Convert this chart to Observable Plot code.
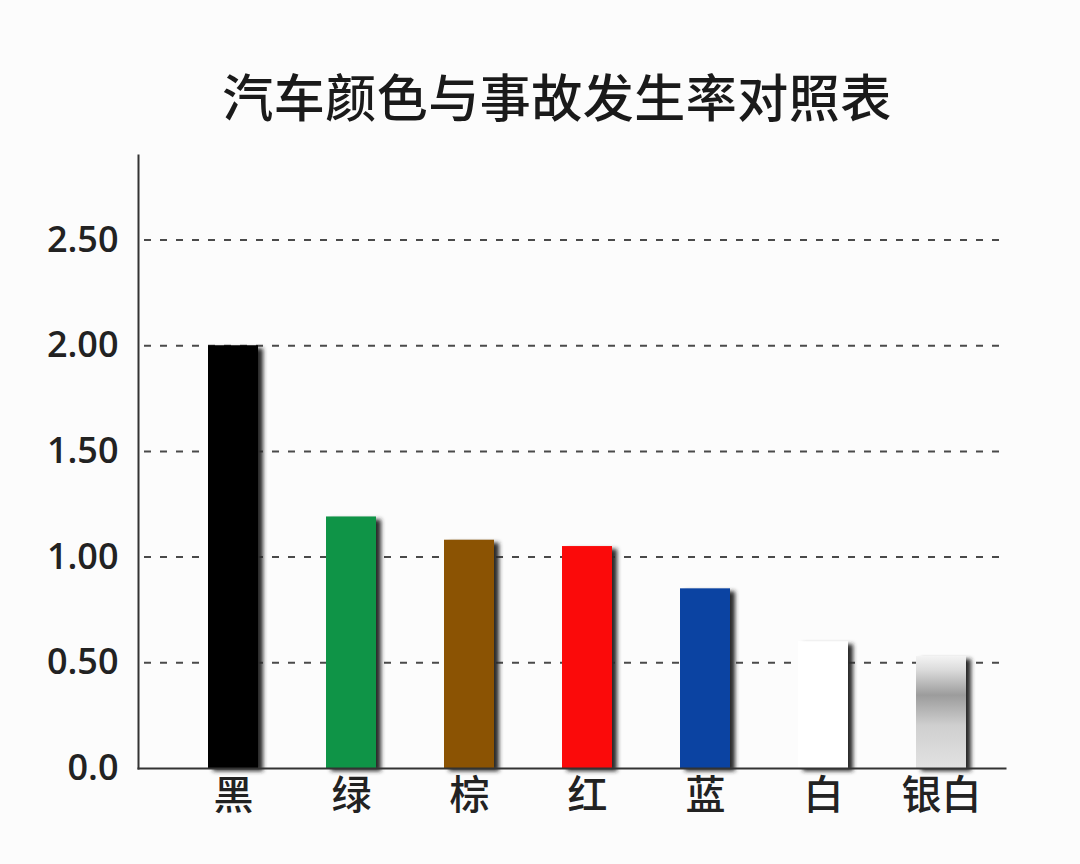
<!DOCTYPE html>
<html><head><meta charset="utf-8">
<script src="https://cdn.jsdelivr.net/npm/d3@7"></script>
<script src="https://cdn.jsdelivr.net/npm/@observablehq/plot@0.6"></script>
<style>
body{margin:0;background:#fcfcfc;width:1080px;height:864px;overflow:hidden}
#title{height:140px;box-sizing:border-box;padding-top:60px;padding-left:34px;text-align:center;font-family:"Noto Sans CJK SC";font-size:51px;letter-spacing:0.5px;line-height:70px;font-weight:500;color:#1a1a1a}
</style></head><body>
<div id="title">汽车颜色与事故发生率对照表</div>
<div id="chart"></div>
<script>
const carColors = ["黑","绿","棕","红","蓝","白","银白"];
const rates = [2.00, 1.19, 1.08, 1.05, 0.85, 0.60, 0.53];
const yTicks = [0, 0.5, 1, 1.5, 2, 2.5];
const yTickLabels = ["0.0","0.50","1.00","1.50","2.00","2.50"];

const data = carColors.map((c, i) => ({name: c, rate: rates[i]}));
const palette = ["#000000","#0f9447","#8b5303","#fb0a0a","#0b43a2","#ffffff","url(#silver)"];

const chart = Plot.plot({
  width: 1080, height: 724,
  marginTop: 15, marginBottom: 96, marginLeft: 138, marginRight: 75,
  style: {background: "transparent", fontFamily: "Noto Sans CJK SC", color: "#222"},
  x: {domain: carColors, paddingInner: 0.579, paddingOuter: 0.44, align: 0.64, label: null},
  y: {domain: [0, 2.9], label: null},
  color: {type: "ordinal", domain: carColors, range: palette},
  marks: [
    Plot.ruleY(yTicks.slice(1), {stroke: "#4a4a4a", strokeWidth: 2, strokeDasharray: "7,9", insetLeft: 6, insetRight: 6}),
    Plot.barY(data, {x: "name", y: "rate", fill: "#2a2a2a", dx: 5, dy: 3}),
    Plot.barY(data, {x: "name", y: "rate", fill: "name"}),
    Plot.frame({anchor: "left", stroke: "#333", strokeWidth: 2}),
    Plot.frame({anchor: "bottom", stroke: "#333", strokeWidth: 2}),
    Plot.axisY({ticks: yTicks, tickFormat: d => yTickLabels[yTicks.indexOf(d)], tickSize: 0, tickPadding: 20, fontSize: 36, fontWeight: 600, fontFamily: "Open Sans", label: null}),
    Plot.axisX({tickSize: 0, tickPadding: 12, fontSize: 40, fontWeight: 500, label: null})
  ]
});
document.getElementById("chart").appendChild(chart);

const svg = d3.select(chart);
const defs = svg.insert("defs", ":first-child");
defs.append("filter").attr("id", "blur").attr("x", "-10%").attr("y", "-10%").attr("width", "120%").attr("height", "120%")
  .append("feGaussianBlur").attr("stdDeviation", 2.2);
const grad = defs.append("linearGradient").attr("id", "silver").attr("x1", 0).attr("y1", 0).attr("x2", 0).attr("y2", 1);
[[0, "#f4f4f4"], [0.12, "#dcdcdc"], [0.35, "#9c9c9c"], [0.62, "#cfcfcf"], [1, "#e2e2e2"]].forEach(([o, c]) =>
  grad.append("stop").attr("offset", o).attr("stop-color", c));
svg.selectAll('g[aria-label="bar"]').filter((d, i) => i === 0).attr("filter", "url(#blur)");
</script>
</body></html>
